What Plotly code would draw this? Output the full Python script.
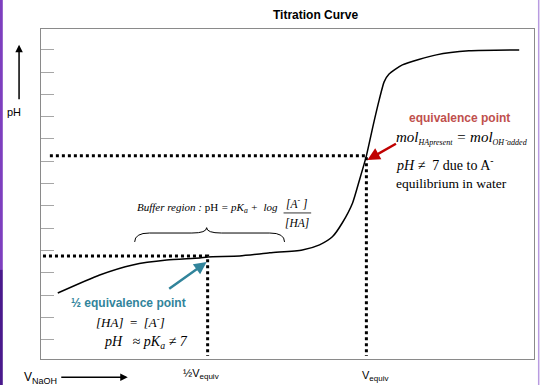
import plotly.graph_objects as go

# ---- data (volume of NaOH in arbitrary units, pH) ----
volume = [3.4, 11.9, 18.6, 25.5, 32.2, 33.8, 40.3, 46.4, 53.0, 56.5, 59.1, 61.1,
          63.2, 64.6, 66.0, 67.4, 68.6, 69.6, 70.6, 73.3, 80.2, 86.8, 97.0]
ph = [3.09, 3.90, 4.35, 4.57, 4.66, 4.71, 4.75, 4.89, 5.02, 5.25, 5.61, 6.23,
      7.13, 8.16, 9.24, 10.63, 11.75, 12.56, 12.91, 13.32, 13.77, 13.95, 13.99]

v_half = 33.8
v_equiv = 66.0
ph_half = 4.75
ph_equiv = 9.24
ph_ticks = list(range(1, 15))

X_RANGE = [0, 100]
Y_RANGE = [0.13, 14.93]

SERIF = "Liberation Serif"
SANS = "Liberation Sans"
RED = "#c0504d"
RED_ARROW = "#c00000"
TEAL = "#31849b"

fig = go.Figure()

fig.add_trace(go.Scatter(x=volume, y=ph, mode="lines",
                         line=dict(color="black", width=1.5, shape="spline", smoothing=0.6),
                         hoverinfo="skip"))

dot = dict(color="black", width=3, dash="3px,3px")
# half-equivalence guides
fig.add_trace(go.Scatter(x=[0.4, v_half, v_half], y=[ph_half, ph_half, 0.27],
                         mode="lines", line=dot, hoverinfo="skip"))
# equivalence guides
fig.add_trace(go.Scatter(x=[1.8, v_equiv, v_equiv], y=[ph_equiv, ph_equiv, 0.27],
                         mode="lines", line=dot, hoverinfo="skip"))

# brace under buffer-region label
bx0, bx1, bxm = 19.0, 49.4, 33.6
by_end, by_line, by_tip = 5.38, 5.78, 6.02
d = 3.0
brace_path = (f"M {bx0},{by_end} Q {bx0},{by_line} {bx0+d},{by_line} "
              f"L {bxm-d},{by_line} Q {bxm},{by_line} {bxm},{by_tip} "
              f"Q {bxm},{by_line} {bxm+d},{by_line} L {bx1-d},{by_line} "
              f"Q {bx1},{by_line} {bx1},{by_end}")

shapes = [
    dict(type="path", path=brace_path, xref="x", yref="y",
         line=dict(color="black", width=1)),
    # fraction bar
    dict(type="line", x0=49.2, x1=54.8, y0=6.68, y1=6.68, xref="x", yref="y",
         line=dict(color="black", width=0.8)),
    # purple slide edges
    dict(type="rect", xref="paper", yref="paper", x0=-0.0835, x1=-0.0775,
         y0=0.27, y1=1.09, fillcolor="#7e3fbf", line=dict(width=0)),
    dict(type="rect", xref="paper", yref="paper", x0=-0.0835, x1=-0.0775,
         y0=-0.08, y1=0.27, fillcolor="#4a1a8c", line=dict(width=0)),
    dict(type="rect", xref="paper", yref="paper", x0=1.008, x1=1.011,
         y0=-0.08, y1=1.09, fillcolor="#b89be0", line=dict(width=0)),
]

ann = []
def txt(text, x, y, size, color="black", family=SERIF, xanchor="left",
        xref="x", yref="y"):
    ann.append(dict(text=text, x=x, y=y, xref=xref, yref=yref, showarrow=False,
                    xanchor=xanchor, yanchor="middle",
                    font=dict(size=size, color=color, family=family)))

def small(s, px):
    return f"<span style='font-size:{px}px'>{s}</span>"

# title and axis labels
txt("<b>Titration Curve</b>", 0.557, 1.042, 12, family=SANS, xanchor="center",
    xref="paper", yref="paper")
txt("pH", -0.055, 0.748, 11, family=SANS, xanchor="center", xref="paper", yref="paper")
txt("V<sub>" + small("NaOH", 9) + "</sub>", -0.038, -0.058, 12, family=SANS,
    xanchor="left", xref="paper", yref="paper")
txt("½V<sub>" + small("equiv", 8) + "</sub>", 32.4, -0.045, 11, family=SANS,
    xanchor="center", yref="paper")
txt("V<sub>" + small("equiv", 8) + "</sub>", 67.8, -0.05, 11, family=SANS,
    xanchor="center", yref="paper")

# equivalence point notes
txt("<b>equivalence point</b>", 84.8, 10.94, 12, color=RED, family=SANS, xanchor="center")
txt("<i>mol<sub>" + small("HApresent", 8) + "</sub> = mol<sub>" + small("OH⁻added", 8)
    + "</sub></i>", 71.6, 10.04, 15)
txt("<i>pH ≠</i>  7 due to A<sup>-</sup>", 71.6, 8.88, 14)
txt("equilibrium in water", 71.6, 7.98, 13.5)

# buffer region
txt("<i>Buffer region : </i>pH <i>= pK<sub>a</sub> +  log</i>", 19.0, 6.92, 11)
txt("<i>[A<sup>-</sup> ]</i>", 52.0, 7.12, 11.5, xanchor="center")
txt("<i>[HA]</i>", 52.0, 6.23, 11.5, xanchor="center")

# half equivalence
txt("<b>½ equivalence point</b>", 17.8, 2.66, 12, color=TEAL, family=SANS, xanchor="center")
txt("<i>[HA]</i>  =  <i>[A<sup>-</sup>]</i>", 18.2, 1.79, 13, xanchor="center")
txt("<i>pH   ≈ pK<sub>a</sub> ≠ 7</i>", 12.3, 0.85, 14)

# arrows
ann.append(dict(x=66.2, y=9.06, ax=72.3, ay=9.82, xref="x", yref="y",
                axref="x", ayref="y", showarrow=True, text="",
                arrowhead=2, arrowsize=1, arrowwidth=2.5, arrowcolor=RED_ARROW))
ann.append(dict(x=33.6, y=4.48, ax=25.7, ay=3.23, xref="x", yref="y",
                axref="x", ayref="y", showarrow=True, text="",
                arrowhead=2, arrowsize=1, arrowwidth=2.5, arrowcolor=TEAL))
ann.append(dict(x=-0.0445, y=0.952, xref="paper", yref="paper", ax=0, ay=56,
                showarrow=True, text="", arrowhead=2, arrowsize=1,
                arrowwidth=1.5, arrowcolor="black"))
ann.append(dict(x=0.176, y=-0.055, xref="paper", yref="paper", ax=-68, ay=0,
                showarrow=True, text="", arrowhead=2, arrowsize=1,
                arrowwidth=1.5, arrowcolor="black"))

fig.update_layout(
    width=540, height=385,
    margin=dict(l=41, r=6, t=29, b=26),
    paper_bgcolor="white", plot_bgcolor="white",
    showlegend=False,
    shapes=shapes, annotations=ann,
    xaxis=dict(range=X_RANGE, showgrid=False, zeroline=False, showticklabels=False,
               ticks="", showline=True, mirror=True, linecolor="#8a8a8a", linewidth=1,
               fixedrange=True),
    yaxis=dict(range=Y_RANGE, showgrid=False, zeroline=False, showticklabels=False,
               tickvals=ph_ticks, ticks="inside", ticklen=13, tickcolor="#a6a6a6",
               tickwidth=1, showline=True, mirror=True, linecolor="#8a8a8a",
               linewidth=1, fixedrange=True),
)

fig.write_html("out.html", config={"displayModeBar": False},
               post_script="document.body.style.margin='0';document.body.style.overflow='hidden';")
